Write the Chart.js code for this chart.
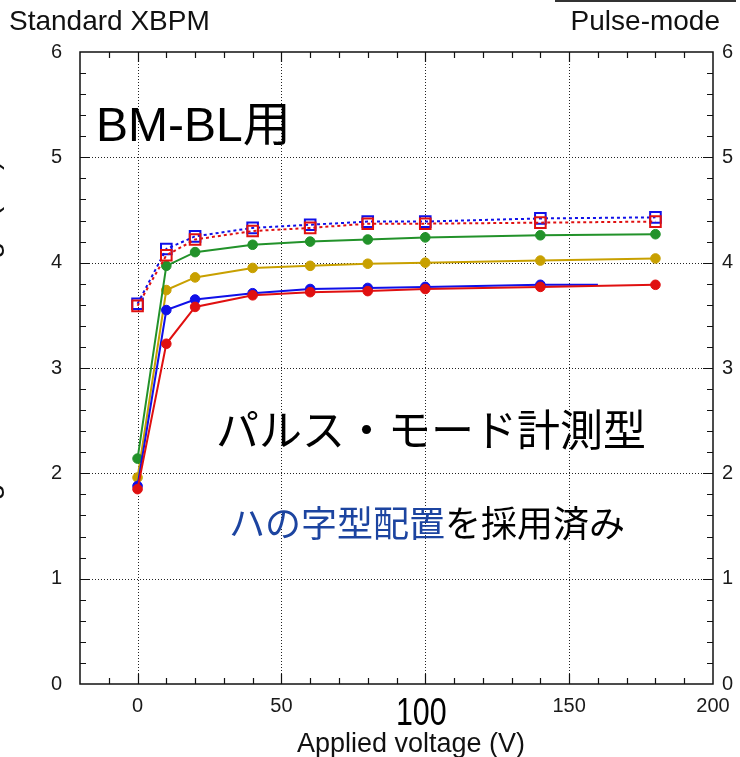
<!DOCTYPE html>
<html><head><meta charset="utf-8">
<script src="https://cdn.jsdelivr.net/npm/chart.js@4"></script>
<style>html,body{margin:0;padding:0;background:#fff}#wrap{width:740px;height:757px;position:relative}</style>
</head><body><div id="wrap"><canvas id="c" width="740" height="757"></canvas></div>
<script>
const voltages = [0, 10, 20, 40, 60, 80, 100, 140, 180];
const blueSquares = [3.61, 4.13, 4.25, 4.33, 4.36, 4.39, 4.39, 4.42, 4.43];
const redSquares = [3.59, 4.07, 4.22, 4.30, 4.33, 4.37, 4.37, 4.38, 4.39];
const greenDots = [2.14, 3.97, 4.10, 4.17, 4.20, 4.22, 4.24, 4.26, 4.27];
const goldDots = [1.96, 3.74, 3.86, 3.95, 3.97, 3.99, 4.00, 4.02, 4.04];
const blueVoltages = [0, 10, 20, 40, 60, 80, 100, 140, 160];
const blueDots = [1.88, 3.55, 3.65, 3.71, 3.75, 3.76, 3.77, 3.79, 3.79];
const redDots = [1.85, 3.23, 3.58, 3.69, 3.72, 3.73, 3.75, 3.77, 3.79];
const xMajorTicks = [0, 50, 100, 150];
const yMajorTicks = [1, 2, 3, 4, 5];
const chartTitle = 'Standard XBPM';
const modeLabel = 'Pulse-mode';
const xTitle = 'Applied voltage (V)';
const yTitle = 'Signal current average (nA)';

const FONT = "'Liberation Sans', Arial, 'Noto Sans CJK JP', sans-serif";
const JFONT = "'Noto Sans CJK JP', sans-serif";

function pts(xs, ys) { return xs.map((x, i) => ({ x: x, y: ys[i] })); }

const BLUE = '#1010e8', RED = '#e01010', GREEN = '#22922a', GOLD = '#c8a000';

const overlay = {
  id: 'overlay',
  beforeDatasetsDraw(chart) {
    const ctx = chart.ctx, a = chart.chartArea, xs = chart.scales.x, ys = chart.scales.y;
    ctx.save();
    ctx.strokeStyle = '#222'; ctx.lineWidth = 1; ctx.setLineDash([1, 2]);
    xMajorTicks.forEach(v => {
      const px = Math.round(xs.getPixelForValue(v)) + 0.5;
      ctx.beginPath(); ctx.moveTo(px, a.top); ctx.lineTo(px, a.bottom); ctx.stroke();
    });
    yMajorTicks.forEach(v => {
      const py = Math.round(ys.getPixelForValue(v)) + 0.5;
      ctx.beginPath(); ctx.moveTo(a.left, py); ctx.lineTo(a.right, py); ctx.stroke();
    });
    ctx.restore();
  },
  afterDraw(chart) {
    const ctx = chart.ctx, a = chart.chartArea, xs = chart.scales.x, ys = chart.scales.y;
    ctx.save();
    ctx.setLineDash([]);
    ctx.strokeStyle = '#111'; ctx.lineWidth = 1.5;
    ctx.strokeRect(a.left, a.top, a.right - a.left, a.bottom - a.top);
    ctx.lineWidth = 1.2;
    for (let v = -10; v < 200; v += 10) {
      const px = Math.round(xs.getPixelForValue(v)) + 0.5;
      const len = (v % 50 === 0) ? 10 : 6;
      ctx.beginPath();
      ctx.moveTo(px, a.bottom); ctx.lineTo(px, a.bottom - len);
      ctx.moveTo(px, a.top); ctx.lineTo(px, a.top + len);
      ctx.stroke();
    }
    for (let i = 1; i < 30; i++) {
      const v = i * 0.2;
      const py = Math.round(ys.getPixelForValue(v)) + 0.5;
      const len = (i % 5 === 0) ? 10 : 6;
      ctx.beginPath();
      ctx.moveTo(a.left, py); ctx.lineTo(a.left + len, py);
      ctx.moveTo(a.right, py); ctx.lineTo(a.right - len, py);
      ctx.stroke();
    }
    ctx.strokeStyle = '#333'; ctx.lineWidth = 2;
    ctx.beginPath(); ctx.moveTo(555, 1); ctx.lineTo(736, 1); ctx.stroke();

    ctx.fillStyle = '#111';
    ctx.font = '28px ' + FONT;
    ctx.textBaseline = 'alphabetic';
    ctx.textAlign = 'left';
    ctx.fillText(chartTitle, 9, 30);
    ctx.textAlign = 'right';
    ctx.fillText(modeLabel, 720, 30);

    ctx.textAlign = 'center';
    ctx.font = '27px ' + FONT;
    ctx.fillText(xTitle, 411, 752);

    ctx.save();
    ctx.translate(-2, 160);
    ctx.rotate(-Math.PI / 2);
    ctx.textAlign = 'right';
    ctx.font = '30px ' + FONT;
    ctx.fillText(yTitle, 0, 0);
    ctx.restore();

    ctx.save();
    const p100 = xs.getPixelForValue(100) - 4;
    ctx.translate(p100, 696);
    ctx.scale(0.8, 1);
    ctx.textAlign = 'center'; ctx.textBaseline = 'top';
    ctx.font = '38px ' + FONT;
    ctx.fillStyle = '#000';
    ctx.fillText('100', 0, 0);
    ctx.restore();

    ctx.textAlign = 'left';
    ctx.textBaseline = 'alphabetic';
    ctx.fillStyle = '#000';
    ctx.font = '48px ' + FONT;
    ctx.fillText('BM-BL用', 96, 141);

    ctx.textBaseline = 'middle';
    ctx.font = '43px ' + JFONT;
    ctx.fillText('パルス・モード計測型', 216, 430);

    ctx.font = '36px ' + JFONT;
    const part1 = 'ハの字型配置', part2 = 'を採用済み';
    ctx.fillStyle = '#1c44a0';
    ctx.fillText(part1, 229, 523);
    const w1 = ctx.measureText(part1).width;
    ctx.fillStyle = '#000';
    ctx.fillText(part2, 229 + w1, 523);
    ctx.restore();
  }
};

function lineDs(data, color, opts) {
  return Object.assign({
    data: data, borderColor: color, backgroundColor: color, borderWidth: 2,
    pointRadius: 4.8, pointBackgroundColor: color, pointBorderColor: color,
    pointBorderWidth: 1, tension: 0, fill: false
  }, opts || {});
}

new Chart(document.getElementById('c'), {
  type: 'line',
  data: {
    datasets: [
      lineDs(pts(voltages, redSquares), RED, { borderDash: [3, 3], pointStyle: 'rect', pointRadius: 7.5, pointBackgroundColor: 'rgba(255,255,255,0)', pointBorderWidth: 2 }),
      lineDs(pts(voltages, blueSquares), BLUE, { borderDash: [3, 3], pointStyle: 'rect', pointRadius: 7.5, pointBackgroundColor: 'rgba(255,255,255,0)', pointBorderWidth: 2 }),
      lineDs(pts(voltages, redDots), RED),
      lineDs(pts(blueVoltages, blueDots), BLUE, { pointRadius: blueVoltages.map(v => v === 160 ? 0 : 4.8) }),
      lineDs(pts(voltages, greenDots), GREEN),
      lineDs(pts(voltages, goldDots), GOLD)
    ]
  },
  options: {
    responsive: false,
    animation: false,
    layout: { padding: { top: 52, left: 0, right: 0, bottom: 0 } },
    plugins: { legend: { display: false }, tooltip: { enabled: false }, title: { display: false } },
    scales: {
      x: {
        type: 'linear', min: -20, max: 200,
        grid: { display: false, drawTicks: false }, border: { display: false },
        ticks: { stepSize: 50, includeBounds: false, padding: 10, color: '#1a1a1a',
          font: { family: FONT, size: 20 },
          callback: v => (v === 100 ? '' : String(v)) },
        afterFit: s => { s.height = 73; }
      },
      y: {
        type: 'linear', position: 'left', min: 0, max: 6,
        grid: { display: false, drawTicks: false }, border: { display: false },
        ticks: { stepSize: 1, padding: 18, color: '#1a1a1a', font: { family: FONT, size: 20 } },
        afterFit: s => { s.width = 80; }
      },
      y2: {
        type: 'linear', position: 'right', min: 0, max: 6,
        grid: { display: false, drawTicks: false }, border: { display: false },
        ticks: { stepSize: 1, padding: 9, color: '#1a1a1a', font: { family: FONT, size: 20 } },
        afterFit: s => { s.width = 27; }
      }
    }
  },
  plugins: [overlay]
});
</script>
</body></html>
